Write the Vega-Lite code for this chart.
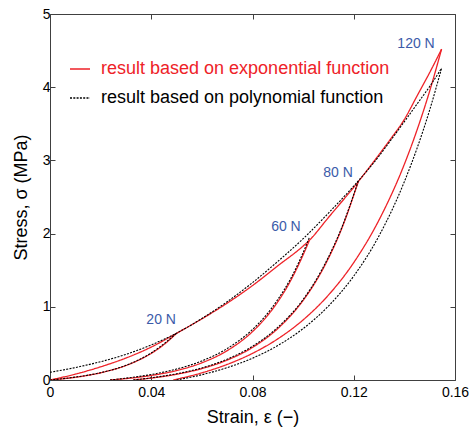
{
"$schema":"https://vega.github.io/schema/vega-lite/v6.json",
"width":405,"height":366,
"autosize":{"type":"none"},
"padding":{"left":50,"top":14,"right":14,"bottom":49},
"background":"white",
"config":{"font":"Liberation Sans","view":{"stroke":null}},
"datasets":{
"curves":[
{"m":"result based on exponential function","c":"exp-load","e":0,"s":0},
{"m":"result based on exponential function","c":"exp-load","e":0.01,"s":0.08},
{"m":"result based on exponential function","c":"exp-load","e":0.02,"s":0.18},
{"m":"result based on exponential function","c":"exp-load","e":0.03,"s":0.30},
{"m":"result based on exponential function","c":"exp-load","e":0.04,"s":0.45},
{"m":"result based on exponential function","c":"exp-load","e":0.05,"s":0.638},
{"m":"result based on exponential function","c":"exp-load","e":0.06,"s":0.835},
{"m":"result based on exponential function","c":"exp-load","e":0.07,"s":1.05},
{"m":"result based on exponential function","c":"exp-load","e":0.08,"s":1.29},
{"m":"result based on exponential function","c":"exp-load","e":0.09,"s":1.56},
{"m":"result based on exponential function","c":"exp-load","e":0.1,"s":1.83},
{"m":"result based on exponential function","c":"exp-load","e":0.1025,"s":1.91},
{"m":"result based on exponential function","c":"exp-load","e":0.11,"s":2.22},
{"m":"result based on exponential function","c":"exp-load","e":0.1218,"s":2.71},
{"m":"result based on exponential function","c":"exp-load","e":0.13,"s":3.08},
{"m":"result based on exponential function","c":"exp-load","e":0.1343,"s":3.28},
{"m":"result based on exponential function","c":"exp-load","e":0.14,"s":3.56},
{"m":"result based on exponential function","c":"exp-load","e":0.145,"s":3.88},
{"m":"result based on exponential function","c":"exp-load","e":0.15,"s":4.2},
{"m":"result based on exponential function","c":"exp-load","e":0.1547,"s":4.52},
{"m":"result based on exponential function","c":"exp-20","e":0,"s":0},
{"m":"result based on exponential function","c":"exp-20","e":0.005,"s":0.016},
{"m":"result based on exponential function","c":"exp-20","e":0.01,"s":0.037},
{"m":"result based on exponential function","c":"exp-20","e":0.015,"s":0.064},
{"m":"result based on exponential function","c":"exp-20","e":0.02,"s":0.098},
{"m":"result based on exponential function","c":"exp-20","e":0.025,"s":0.142},
{"m":"result based on exponential function","c":"exp-20","e":0.03,"s":0.198},
{"m":"result based on exponential function","c":"exp-20","e":0.035,"s":0.271},
{"m":"result based on exponential function","c":"exp-20","e":0.04,"s":0.364},
{"m":"result based on exponential function","c":"exp-20","e":0.045,"s":0.484},
{"m":"result based on exponential function","c":"exp-20","e":0.05,"s":0.638},
{"m":"result based on exponential function","c":"exp-60","e":0.0237,"s":0},
{"m":"result based on exponential function","c":"exp-60","e":0.03,"s":0.019},
{"m":"result based on exponential function","c":"exp-60","e":0.04,"s":0.062},
{"m":"result based on exponential function","c":"exp-60","e":0.05,"s":0.129},
{"m":"result based on exponential function","c":"exp-60","e":0.06,"s":0.235},
{"m":"result based on exponential function","c":"exp-60","e":0.07,"s":0.401},
{"m":"result based on exponential function","c":"exp-60","e":0.08,"s":0.661},
{"m":"result based on exponential function","c":"exp-60","e":0.085,"s":0.842},
{"m":"result based on exponential function","c":"exp-60","e":0.09,"s":1.069},
{"m":"result based on exponential function","c":"exp-60","e":0.095,"s":1.353},
{"m":"result based on exponential function","c":"exp-60","e":0.1,"s":1.709},
{"m":"result based on exponential function","c":"exp-60","e":0.1025,"s":1.91},
{"m":"result based on exponential function","c":"exp-80","e":0.0329,"s":0},
{"m":"result based on exponential function","c":"exp-80","e":0.04,"s":0.026},
{"m":"result based on exponential function","c":"exp-80","e":0.05,"s":0.078},
{"m":"result based on exponential function","c":"exp-80","e":0.06,"s":0.156},
{"m":"result based on exponential function","c":"exp-80","e":0.07,"s":0.272},
{"m":"result based on exponential function","c":"exp-80","e":0.08,"s":0.445},
{"m":"result based on exponential function","c":"exp-80","e":0.09,"s":0.703},
{"m":"result based on exponential function","c":"exp-80","e":0.1,"s":1.087},
{"m":"result based on exponential function","c":"exp-80","e":0.105,"s":1.345},
{"m":"result based on exponential function","c":"exp-80","e":0.11,"s":1.662},
{"m":"result based on exponential function","c":"exp-80","e":0.115,"s":2.047},
{"m":"result based on exponential function","c":"exp-80","e":0.1218,"s":2.71},
{"m":"result based on exponential function","c":"exp-120","e":0.0487,"s":0},
{"m":"result based on exponential function","c":"exp-120","e":0.06,"s":0.098},
{"m":"result based on exponential function","c":"exp-120","e":0.07,"s":0.213},
{"m":"result based on exponential function","c":"exp-120","e":0.08,"s":0.364},
{"m":"result based on exponential function","c":"exp-120","e":0.09,"s":0.562},
{"m":"result based on exponential function","c":"exp-120","e":0.1,"s":0.821},
{"m":"result based on exponential function","c":"exp-120","e":0.11,"s":1.16},
{"m":"result based on exponential function","c":"exp-120","e":0.12,"s":1.604},
{"m":"result based on exponential function","c":"exp-120","e":0.13,"s":2.187},
{"m":"result based on exponential function","c":"exp-120","e":0.14,"s":2.948},
{"m":"result based on exponential function","c":"exp-120","e":0.145,"s":3.415},
{"m":"result based on exponential function","c":"exp-120","e":0.15,"s":3.948},
{"m":"result based on exponential function","c":"exp-120","e":0.1547,"s":4.52},
{"m":"result based on polynomial function","c":"poly-load","e":0,"s":0.105},
{"m":"result based on polynomial function","c":"poly-load","e":0.01,"s":0.17},
{"m":"result based on polynomial function","c":"poly-load","e":0.02,"s":0.25},
{"m":"result based on polynomial function","c":"poly-load","e":0.03,"s":0.35},
{"m":"result based on polynomial function","c":"poly-load","e":0.04,"s":0.48},
{"m":"result based on polynomial function","c":"poly-load","e":0.05,"s":0.64},
{"m":"result based on polynomial function","c":"poly-load","e":0.06,"s":0.84},
{"m":"result based on polynomial function","c":"poly-load","e":0.07,"s":1.07},
{"m":"result based on polynomial function","c":"poly-load","e":0.08,"s":1.33},
{"m":"result based on polynomial function","c":"poly-load","e":0.09,"s":1.62},
{"m":"result based on polynomial function","c":"poly-load","e":0.1,"s":1.93},
{"m":"result based on polynomial function","c":"poly-load","e":0.11,"s":2.28},
{"m":"result based on polynomial function","c":"poly-load","e":0.12,"s":2.65},
{"m":"result based on polynomial function","c":"poly-load","e":0.1218,"s":2.72},
{"m":"result based on polynomial function","c":"poly-load","e":0.13,"s":3.06},
{"m":"result based on polynomial function","c":"poly-load","e":0.1343,"s":3.26},
{"m":"result based on polynomial function","c":"poly-load","e":0.14,"s":3.53},
{"m":"result based on polynomial function","c":"poly-load","e":0.145,"s":3.77},
{"m":"result based on polynomial function","c":"poly-load","e":0.15,"s":4.01},
{"m":"result based on polynomial function","c":"poly-load","e":0.1547,"s":4.26},
{"m":"result based on polynomial function","c":"poly-20","e":0,"s":0},
{"m":"result based on polynomial function","c":"poly-20","e":0.01,"s":0.04},
{"m":"result based on polynomial function","c":"poly-20","e":0.02,"s":0.1},
{"m":"result based on polynomial function","c":"poly-20","e":0.03,"s":0.2},
{"m":"result based on polynomial function","c":"poly-20","e":0.035,"s":0.275},
{"m":"result based on polynomial function","c":"poly-20","e":0.04,"s":0.37},
{"m":"result based on polynomial function","c":"poly-20","e":0.045,"s":0.495},
{"m":"result based on polynomial function","c":"poly-20","e":0.05,"s":0.64},
{"m":"result based on polynomial function","c":"poly-60","e":0.0237,"s":0},
{"m":"result based on polynomial function","c":"poly-60","e":0.03,"s":0.025},
{"m":"result based on polynomial function","c":"poly-60","e":0.04,"s":0.075},
{"m":"result based on polynomial function","c":"poly-60","e":0.05,"s":0.15},
{"m":"result based on polynomial function","c":"poly-60","e":0.06,"s":0.26},
{"m":"result based on polynomial function","c":"poly-60","e":0.07,"s":0.43},
{"m":"result based on polynomial function","c":"poly-60","e":0.08,"s":0.69},
{"m":"result based on polynomial function","c":"poly-60","e":0.085,"s":0.87},
{"m":"result based on polynomial function","c":"poly-60","e":0.09,"s":1.1},
{"m":"result based on polynomial function","c":"poly-60","e":0.095,"s":1.38},
{"m":"result based on polynomial function","c":"poly-60","e":0.1,"s":1.74},
{"m":"result based on polynomial function","c":"poly-60","e":0.1025,"s":1.95},
{"m":"result based on polynomial function","c":"poly-80","e":0.0329,"s":0},
{"m":"result based on polynomial function","c":"poly-80","e":0.04,"s":0.03},
{"m":"result based on polynomial function","c":"poly-80","e":0.05,"s":0.085},
{"m":"result based on polynomial function","c":"poly-80","e":0.06,"s":0.165},
{"m":"result based on polynomial function","c":"poly-80","e":0.07,"s":0.285},
{"m":"result based on polynomial function","c":"poly-80","e":0.08,"s":0.46},
{"m":"result based on polynomial function","c":"poly-80","e":0.09,"s":0.72},
{"m":"result based on polynomial function","c":"poly-80","e":0.1,"s":1.1},
{"m":"result based on polynomial function","c":"poly-80","e":0.105,"s":1.36},
{"m":"result based on polynomial function","c":"poly-80","e":0.11,"s":1.68},
{"m":"result based on polynomial function","c":"poly-80","e":0.115,"s":2.06},
{"m":"result based on polynomial function","c":"poly-80","e":0.1218,"s":2.72},
{"m":"result based on polynomial function","c":"poly-120","e":0.05,"s":0},
{"m":"result based on polynomial function","c":"poly-120","e":0.06,"s":0.072},
{"m":"result based on polynomial function","c":"poly-120","e":0.07,"s":0.169},
{"m":"result based on polynomial function","c":"poly-120","e":0.08,"s":0.298},
{"m":"result based on polynomial function","c":"poly-120","e":0.09,"s":0.471},
{"m":"result based on polynomial function","c":"poly-120","e":0.1,"s":0.702},
{"m":"result based on polynomial function","c":"poly-120","e":0.11,"s":1.01},
{"m":"result based on polynomial function","c":"poly-120","e":0.12,"s":1.42},
{"m":"result based on polynomial function","c":"poly-120","e":0.13,"s":1.97},
{"m":"result based on polynomial function","c":"poly-120","e":0.14,"s":2.71},
{"m":"result based on polynomial function","c":"poly-120","e":0.145,"s":3.165},
{"m":"result based on polynomial function","c":"poly-120","e":0.15,"s":3.69},
{"m":"result based on polynomial function","c":"poly-120","e":0.1547,"s":4.26}
],
"labels":[
{"t":"20 N","e":0.0439,"s":0.82},
{"t":"60 N","e":0.0932,"s":2.09},
{"t":"80 N","e":0.1138,"s":2.83},
{"t":"120 N","e":0.1446,"s":4.59}
]
},
"layer":[
{"data":{"name":"curves"},
 "transform":[{"filter":"datum.m == 'result based on exponential function'"}],
 "mark":{"type":"line","strokeWidth":1.3,"interpolate":"monotone","clip":true},
 "encoding":{
  "x":{"field":"e","type":"quantitative","scale":{"domain":[0,0.16],"nice":false,"zero":false},
       "axis":{"orient":"bottom","values":[0,0.04,0.08,0.12,0.16],"labelExpr":"datum.value == 0 ? '0' : format(datum.value, '.2f')",
               "title":"Strain, ε (−)","titleFontSize":18,"titleFontWeight":"normal","titleColor":"#000000","titlePadding":9,
               "labelFontSize":14,"labelColor":"#000000","labelFlush":false,"labelPadding":10,"tickSize":-5,"tickColor":"#404040",
               "domainColor":"#404040","grid":false}},
  "y":{"field":"s","type":"quantitative","scale":{"domain":[0,5],"nice":false},
       "axis":{"orient":"left","values":[0,1,2,3,4,5],
               "title":"Stress, σ (MPa)","titleFontSize":18,"titleFontWeight":"normal","titleColor":"#000000","titlePadding":12,
               "labelFontSize":14,"labelColor":"#000000","labelFlush":false,"labelPadding":5,"tickSize":-5,"tickColor":"#404040",
               "domainColor":"#404040","grid":false}},
  "detail":{"field":"c","type":"nominal"},
  "color":{"field":"m","type":"nominal",
           "scale":{"domain":["result based on exponential function","result based on polynomial function"],"range":["#ee2228","#000000"]},
           "legend":{"orient":"none","legendX":19,"legendY":44,"title":null,"padding":0,"labelFontSize":18,"labelFont":"Liberation Sans",
                     "symbolType":"stroke","symbolSize":400,"symbolStrokeWidth":1.3,"labelOffset":10,"rowPadding":9,"labelLimit":400,
                     "encode":{"labels":{"update":{"fill":{"signal":"datum.value == 'result based on exponential function' ? '#ee2228' : '#000000'"}}}}}},
  "strokeDash":{"field":"m","type":"nominal",
           "scale":{"domain":["result based on exponential function","result based on polynomial function"],"range":[[1,0],[2,1.3]]},
           "legend":{"orient":"none","legendX":19,"legendY":44,"title":null,"padding":0,"labelFontSize":18,"labelFont":"Liberation Sans",
                     "symbolType":"stroke","symbolSize":400,"symbolStrokeWidth":1.3,"labelOffset":10,"rowPadding":9,"labelLimit":400,
                     "encode":{"labels":{"update":{"fill":{"signal":"datum.value == 'result based on exponential function' ? '#ee2228' : '#000000'"}}}}}}
 }},
{"data":{"name":"curves"},
 "transform":[{"filter":"datum.m == 'result based on polynomial function'"}],
 "mark":{"type":"line","strokeWidth":1.1,"interpolate":"monotone","clip":true},
 "encoding":{
  "x":{"field":"e","type":"quantitative",
       "axis":{"orient":"top","values":[0,0.04,0.08,0.12,0.16],"labels":false,"title":null,"tickSize":-5,"tickColor":"#404040","domainColor":"#404040","grid":false}},
  "y":{"field":"s","type":"quantitative",
       "axis":{"orient":"right","values":[0,1,2,3,4,5],"labels":false,"title":null,"tickSize":-5,"tickColor":"#404040","domainColor":"#404040","grid":false}},
  "detail":{"field":"c","type":"nominal"},
  "color":{"field":"m","type":"nominal"},
  "strokeDash":{"field":"m","type":"nominal"}
 }},
{"data":{"name":"labels"},
 "mark":{"type":"text","fontSize":14,"color":"#3b5ba9","font":"Liberation Sans"},
 "encoding":{
  "x":{"field":"e","type":"quantitative","axis":null},
  "y":{"field":"s","type":"quantitative","axis":null},
  "text":{"field":"t","type":"nominal"}
 }}
],
"resolve":{"axis":{"x":"independent","y":"independent"}}
}
